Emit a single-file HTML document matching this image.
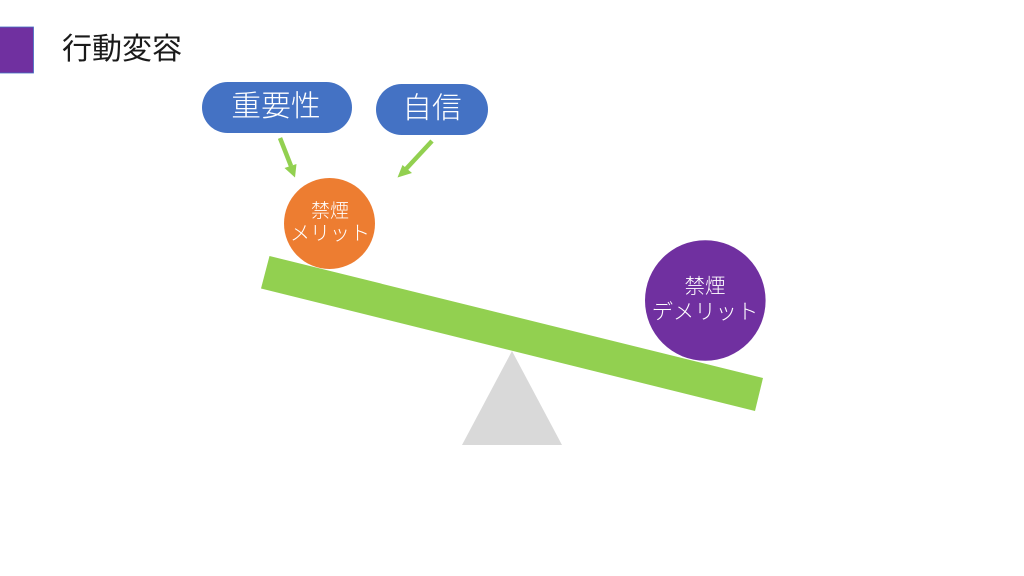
<!DOCTYPE html>
<html lang="ja">
<head>
<meta charset="utf-8">
<title>行動変容</title>
<style>
html,body{margin:0;padding:0;background:#fff;width:1024px;height:576px;overflow:hidden}
svg{display:block}
text{font-family:"Liberation Sans","Noto Sans CJK JP",sans-serif;text-anchor:middle;font-weight:300}
</style>
</head>
<body>
<svg width="1024" height="576" viewBox="0 0 1024 576" xmlns="http://www.w3.org/2000/svg">
<rect width="1024" height="576" fill="#fff"/>
<rect x="-2" y="27" width="35.500" height="46" fill="#7030A0" stroke="#4472C4" stroke-width="0.800"/>
<text x="122" y="59" font-size="30" fill="#1a1a1a" style="font-weight:400">行動変容</text>
<rect x="202" y="82" width="150" height="51" rx="25.500" fill="#4472C4"/>
<text x="276" y="116" font-size="29.800" fill="#fff">重要性</text>
<rect x="376" y="84" width="112" height="51" rx="25.500" fill="#4472C4"/>
<text x="432" y="118" font-size="29.800" fill="#fff">自信</text>
<line x1="280" y1="138" x2="291" y2="166" stroke="#92D050" stroke-width="4.500"/>
<polygon points="295,177.500 284.500,168 296.500,164" fill="#92D050"/>
<line x1="432" y1="141" x2="406" y2="169" stroke="#92D050" stroke-width="4.500"/>
<polygon points="397.500,177.500 402.500,165 412,173" fill="#92D050"/>
<polygon points="512,351 562,445 462,445" fill="#D9D9D9"/>
<circle cx="329.500" cy="223.500" r="45.500" fill="#ED7D31"/>
<circle cx="705.300" cy="300.500" r="60.300" fill="#7030A0"/>
<polygon points="269.500,256 763,378 755,411 261,288.500" fill="#92D050"/>
<text x="330" y="217" font-size="19" fill="#fff">禁煙</text>
<text x="330" y="240" font-size="20" fill="#fff">メリット</text>
<text x="705" y="293" font-size="20.500" fill="#fff">禁煙</text>
<text x="705" y="319" font-size="21.300" fill="#fff">デメリット</text>
</svg>
</body>
</html>
